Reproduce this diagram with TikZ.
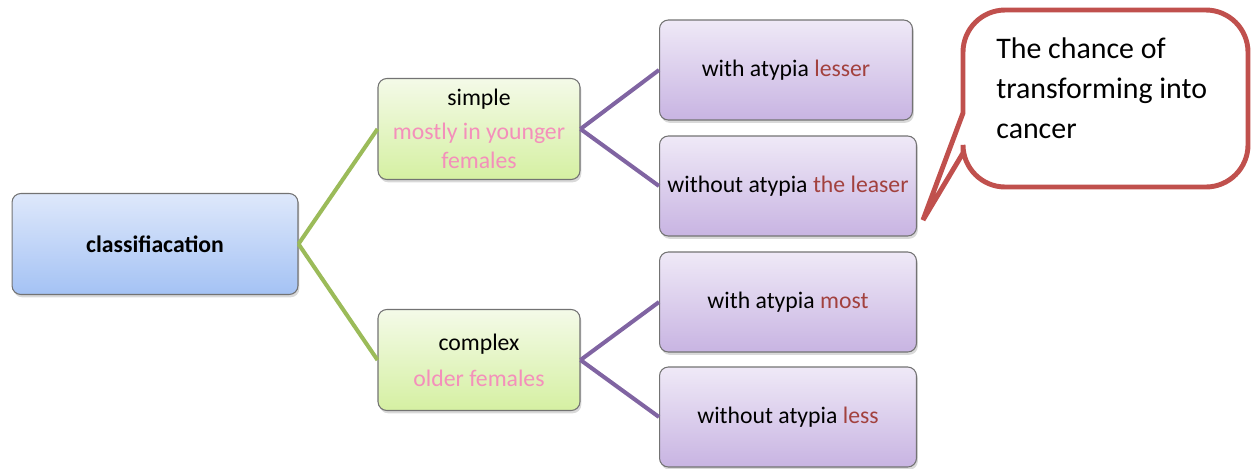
\documentclass[tikz,border=0pt]{standalone}
\usepackage{fontspec}
\setmainfont{Carlito}
\usetikzlibrary{shadows}
\definecolor{linkgreen}{HTML}{9BBB59}
\definecolor{linkpurple}{HTML}{8064A2}
\definecolor{bubblered}{HTML}{C0504D}
\definecolor{notepink}{HTML}{F48FBB}
\definecolor{notered}{HTML}{A2413E}
\definecolor{roottop}{HTML}{DEE8FB}
\definecolor{rootbottom}{HTML}{A4C2F4}
\definecolor{typetop}{HTML}{F4FAE8}
\definecolor{typebottom}{HTML}{D5F0A2}
\definecolor{gradetop}{HTML}{EFE9F7}
\definecolor{gradebottom}{HTML}{C8B4E2}
\tikzset{box/.style={draw=black!55, line width=0.6pt, rounded corners=5pt, align=center,
    drop shadow={opacity=0.3, shadow xshift=0.8pt, shadow yshift=-1.6pt},
    font=\fontsize{13.5}{16.5}\selectfont},
  rootbox/.style={box, top color=roottop, bottom color=rootbottom, minimum width=5.72cm, minimum height=2.02cm},
  typebox/.style={box, top color=typetop, bottom color=typebottom, minimum width=4.04cm, minimum height=2.02cm},
  gradebox/.style={box, top color=gradetop, bottom color=gradebottom, minimum width=5.14cm, minimum height=2.0cm},
  greenlink/.style={draw=linkgreen, line width=2.3pt},
  purplelink/.style={draw=linkpurple, line width=2.3pt},
  bubble/.style={draw=bubblered, line width=2.8pt, fill=white}}
\newcommand{\pinknote}[1]{\textcolor{notepink}{#1}}
\newcommand{\rednote}[1]{\textcolor{notered}{#1}}
\begin{document}
\begin{tikzpicture}[x=0.02cm, y=-0.02cm]
  \useasboundingbox (0,0) rectangle (1255,468);
  % boxes
  \node[rootbox] (class) at (155,244) {\textbf{classifiacation}};
  \node[typebox] (simple) at (479,129) {simple\\[3pt]\pinknote{mostly in younger}\\\pinknote{females}};
  \node[typebox] (complex) at (479,360) {complex\\[4pt]\pinknote{older females}};
  \node[gradebox, minimum width=5.06cm] (simplewith) at (786,70) {with atypia \rednote{lesser}};
  \node[gradebox] (simplewithout) at (788,186) {without atypia \rednote{the leaser}};
  \node[gradebox] (complexwith) at (788,302) {with atypia \rednote{most}};
  \node[gradebox] (complexwithout) at (788,417) {without atypia \rednote{less}};
  % links
  \draw[greenlink] (class.east) -- (simple.west);
  \draw[greenlink] (class.east) -- (complex.west);
  \draw[purplelink] (simple.east) -- (simplewith.west);
  \draw[purplelink] (simple.east) -- (simplewithout.west);
  \draw[purplelink] (complex.east) -- (complexwith.west);
  \draw[purplelink] (complex.east) -- (complexwithout.west);
  % callout
  \coordinate (tip) at (923,220);
  \draw[bubble] (tip) -- (963,113) [rounded corners=24pt] -- (963,10) -- (1248,10)
    -- (1248,187) -- (963,187) [sharp corners] -- (963,153) -- cycle;
  \node[anchor=north west, inner sep=0pt, align=left, font=\fontsize{17}{23}\selectfont] (note) at (996,37)
    {The chance of\\transforming into\\cancer};
\end{tikzpicture}
\end{document}
